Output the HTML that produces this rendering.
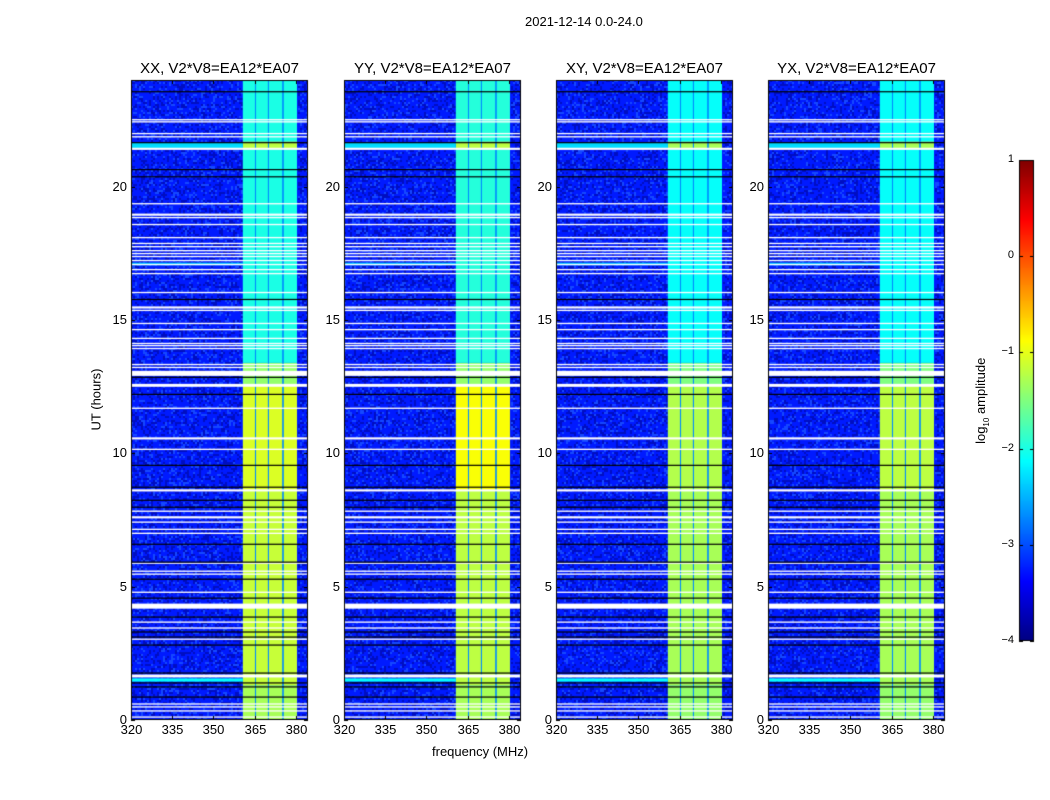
<!DOCTYPE html>
<html><head><meta charset="utf-8"><style>
body{margin:0;background:#fff;width:1050px;height:800px;position:relative;overflow:hidden;font-family:"Liberation Sans",sans-serif;color:#000}
.t{position:absolute;white-space:nowrap;font-size:13px}
canvas{position:absolute}
</style></head><body>
<div class="t" style="left:525px;top:14px;font-size:13px">2021-12-14 0.0-24.0</div>
<div class="t" style="left:56px;top:392px;transform:rotate(-90deg);width:80px;text-align:center">UT (hours)</div>
<div class="t" style="left:432px;top:744px">frequency (MHz)</div>
<div class="t" style="left:922px;top:392px;transform:rotate(-90deg);width:120px;text-align:center">log<sub style="font-size:8px">10</sub> amplitude</div>
<canvas id="cv" width="1050" height="800" style="left:0;top:0"></canvas>
<div id="labels"></div>
<script>
// ---- data ----
const panelNames=["XX, V2*V8=EA12*EA07","YY, V2*V8=EA12*EA07","XY, V2*V8=EA12*EA07","YX, V2*V8=EA12*EA07"];
const panelLefts=[131,344,556,768];
const xTicks=[320,335,350,365,380];
const yTicks=[0,5,10,15,20];
const cbTicks=[1,0,-1,-2,-3,-4];
const backgroundLevel=-3.25;
const channelStart=[360.7,365.5,370.2,375.6];
const channelEnd=[365.1,369.8,375.0,380.4];
const gapLevel=-2.7;
const blockStart=[0,1.3,8.6,12.6,13.4,21.4,21.7];
const blockEnd=[1.3,8.6,12.6,13.4,21.4,21.7,24];
const blockLevelXX=[-1.3,-1.15,-1.05,-1.4,-2.0,-1.2,-2.0];
const blockLevelYY=[-1.3,-1.2,-0.9,-1.4,-1.95,-1.2,-1.95];
const blockLevelXY=[-1.4,-1.3,-1.25,-1.5,-2.1,-1.3,-2.1];
const blockLevelYX=[-1.4,-1.3,-1.2,-1.5,-2.1,-1.3,-2.1];
const rfiTimes=[21.55,1.5,17.1];
const rfiWidths=[0.2,0.12,0.1];
const rfiLevels=[-2.3,-2.1,-2.4];
const flagTimes=[22.51,22.43,21.99,21.87,21.42,19.36,18.95,18.84,18.58,18.09,17.87,17.75,17.60,17.49,17.38,17.23,17.08,16.89,16.74,16.03,15.47,15.36,14.87,14.64,14.31,14.12,14.04,13.93,13.33,13.22,13.0,12.55,11.69,10.56,10.15,8.61,7.83,7.60,7.42,7.15,7.0,5.88,5.58,5.47,4.79,4.27,3.67,3.45,3.03,1.65,0.60,0.49,0.34,0.11];
const flagWidths=[0.05,0.05,0.05,0.05,0.08,0.05,0.08,0.05,0.05,0.05,0.05,0.05,0.05,0.05,0.05,0.05,0.05,0.05,0.05,0.05,0.08,0.05,0.05,0.05,0.05,0.05,0.05,0.05,0.05,0.05,0.19,0.11,0.05,0.08,0.05,0.08,0.05,0.08,0.05,0.05,0.05,0.05,0.05,0.05,0.05,0.19,0.05,0.05,0.05,0.11,0.05,0.05,0.05,0.05];
const blackTimes=[23.56,21.65,20.64,20.37,15.77,12.85,12.21,9.55,8.73,8.24,7.98,6.59,5.92,5.28,4.57,3.86,3.30,3.11,2.81,1.76,1.39,1.24,0.86];
const blockLevels=[blockLevelXX,blockLevelYY,blockLevelXY,blockLevelYX];
// ---- scales ----
const PW=177,PT=80,PB=720,F0=320,F1=384.4,T1=24;
const xs=(p,f)=>panelLefts[p]+(f-F0)/(F1-F0)*PW;
const ys=t=>PB-t/T1*(PB-PT);
function jet(v){let t=(v+4)/5;t=Math.max(0,Math.min(1,t));
 const c=x=>Math.round(255*Math.max(0,Math.min(1,x)));
 return `rgb(${c(1.5-Math.abs(4*t-3))},${c(1.5-Math.abs(4*t-2))},${c(1.5-Math.abs(4*t-1))})`;}
const cv=document.getElementById('cv'),g=cv.getContext('2d');
const L=document.getElementById('labels');
function lab(txt,x,y,name,align,size){const d=document.createElement('div');d.className='t';d.textContent=txt;
 
 
 d.style.top=(y-8)+'px';d.style.fontSize=(size||13)+'px';
 if(align==='c'){d.style.left=(x-100)+'px';d.style.width='200px';d.style.textAlign='center';}
 else {d.style.left=(x-60)+'px';d.style.width='60px';d.style.textAlign='right';}
 L.appendChild(d);}
// texture: pixel speckle drawn as a visual overlay (not data)
function speckle(x0,y0,w,h){
 for(let y=y0;y<y0+h;y+=2)for(let x=x0;x<x0+w;x+=2){
  const k=Math.sin(x*12.9898+y*78.233)*43758.5453;const r=k-Math.floor(k);
  if(r<0.25){g.fillStyle='rgba(0,0,120,0.45)';g.fillRect(x,y,2,2);}
  else if(r>0.85){g.fillStyle='rgba(60,160,255,0.35)';g.fillRect(x,y,2,2);}
 }}
for(let p=0;p<4;p++){
 const x0=panelLefts[p];
 g.fillStyle=jet(backgroundLevel);g.fillRect(x0,PT,PW,PB-PT);
 const bs=xs(p,channelStart[0]),be=xs(p,channelEnd[3]);
 speckle(x0,PT,Math.floor(bs-x0),PB-PT);
 speckle(Math.ceil(be),PT,x0+PW-Math.ceil(be),PB-PT);
 g.fillStyle=jet(gapLevel);
 g.fillRect(bs,PT,be-bs,PB-PT);
 for(let b=0;b<blockStart.length;b++){
  g.fillStyle=jet(blockLevels[p][b]);
  for(let c=0;c<channelStart.length;c++){
   g.fillRect(xs(p,channelStart[c]),ys(blockEnd[b]),xs(p,channelEnd[c])-xs(p,channelStart[c]),ys(blockStart[b])-ys(blockEnd[b]));
  }
 }
 for(let i=0;i<rfiTimes.length;i++){g.fillStyle=jet(rfiLevels[i]);
  g.fillRect(x0,ys(rfiTimes[i]+rfiWidths[i]/2),bs-x0,Math.max(1,rfiWidths[i]/T1*640));}
 g.fillStyle='#fff';
 for(let i=0;i<flagTimes.length;i++){const h=Math.max(1.3,flagWidths[i]/T1*640);
  g.fillRect(x0,ys(flagTimes[i])-h/2,PW,h);}
 g.fillStyle='#000';
 for(let i=0;i<blackTimes.length;i++){g.fillRect(x0,ys(blackTimes[i])-0.6,PW,1.2);}
 g.strokeStyle='#000';g.lineWidth=1;g.strokeRect(x0+0.5,PT+0.5,PW-1,PB-PT-1);
 g.beginPath();
 for(const f of xTicks){const x=Math.round(xs(p,f))+0.5;g.moveTo(x,PB);g.lineTo(x,PB-4);g.moveTo(x,PT);g.lineTo(x,PT+4);
  lab(String(f),x,PB+10,'x-tick-label','c');}
 for(const t of yTicks){const y=Math.round(ys(t))+0.5;g.moveTo(x0,y);g.lineTo(x0+4,y);g.moveTo(x0+PW,y);g.lineTo(x0+PW-4,y);
  lab(String(t),x0-4,y-1,'y-tick-label','r');}
 g.stroke();
 lab(panelNames[p],x0+PW/2,PT-12,'panel-title','c',15);
}
const CX=1019,CW=15,CT=160,CB=641;
for(let y=CT;y<CB;y++){const v=1-(y-CT)/(CB-CT)*5;g.fillStyle=jet(v);g.fillRect(CX,y,CW,1);}
g.strokeStyle='#000';g.strokeRect(CX+0.5,CT+0.5,CW-1,CB-CT-1);
g.beginPath();
for(const v of cbTicks){const y=Math.round(CT+(1-v)/5*(CB-CT))+0.5;g.moveTo(CX,y);g.lineTo(CX+4,y);g.moveTo(CX+CW,y);g.lineTo(CX+CW-4,y);
 lab(v<0?'\u2212'+(-v):String(v),CX-5,y,'colorbar-tick-label','r',11);}
g.stroke();
</script>
</body></html>
